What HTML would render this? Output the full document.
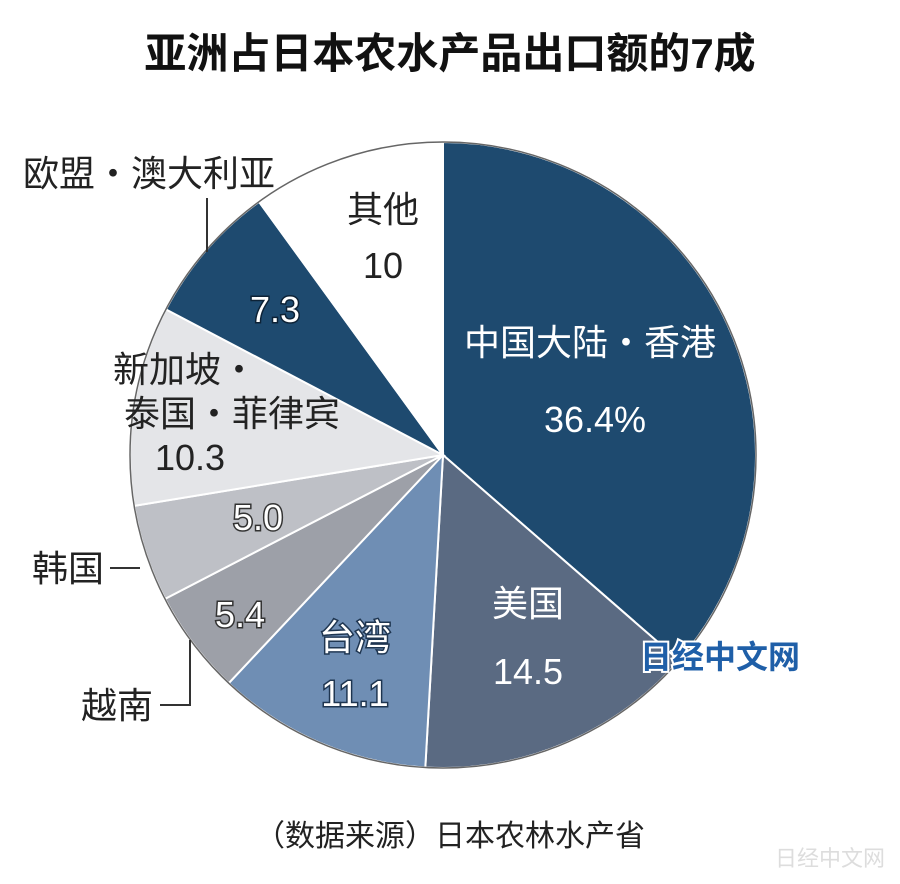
<!DOCTYPE html>
<html><head><meta charset="utf-8">
<style>
html,body{margin:0;padding:0;background:#fff;}
body{width:900px;height:884px;position:relative;overflow:hidden;font-family:"Liberation Sans","Noto Sans CJK SC",sans-serif;}
.t{position:absolute;white-space:nowrap;}
</style></head>
<body>
<div class="t" style="left:0;width:900px;top:28px;text-align:center;font-size:42px;font-weight:bold;color:#111;line-height:52px;">亚洲占日本农水产品出口额的7成</div>
<svg id="pie" width="900" height="884" style="position:absolute;left:0;top:0;" xmlns="http://www.w3.org/2000/svg"></svg>
<div class="t" style="left:0;width:900px;top:818px;text-align:center;font-size:30px;color:#222;line-height:38px;">（数据来源）日本农林水产省</div>
<script>
const categories=["中国大陆・香港","美国","台湾","越南","韩国","新加坡・泰国・菲律宾","欧盟・澳大利亚","其他"];
const values=[36.4,14.5,11.1,5.4,5.0,10.3,7.3,10];
const valueLabels=["36.4%","14.5","11.1","5.4","5.0","10.3","7.3","10"];
const colors=["#1e4a6f","#5a6a82","#6f8eb4","#9da0a8","#bec0c6","#e4e5e8","#1e4a6f","#ffffff"];
const NS="http://www.w3.org/2000/svg";
const svg=document.getElementById('pie');
const cx=443,cy=455,r=313;
const total=values.reduce((a,b)=>a+b,0);
function pt(frac,rad){const a=frac*2*Math.PI;return [cx+rad*Math.sin(a),cy-rad*Math.cos(a)];}
let acc=0;
values.forEach((v,i)=>{
  const s=acc/total,e=(acc+v)/total;acc+=v;
  const p0=pt(s,r),p1=pt(e,r);
  const large=(e-s)>0.5?1:0;
  const path=document.createElementNS(NS,'path');
  path.setAttribute('d',`M${cx},${cy}L${p0[0]},${p0[1]}A${r},${r} 0 ${large} 1 ${p1[0]},${p1[1]}Z`);
  path.setAttribute('fill',colors[i]);
  path.setAttribute('stroke','#fff');
  path.setAttribute('stroke-width','2');
  
  
  svg.appendChild(path);
});
const ring=document.createElementNS(NS,'circle');
ring.setAttribute('cx',cx);ring.setAttribute('cy',cy);ring.setAttribute('r',r);
ring.setAttribute('fill','none');ring.setAttribute('stroke','#666');ring.setAttribute('stroke-width','1.5');


svg.appendChild(ring);
const inLabels=[
 [590,355,categories[0],'#fff',null],[595,432,valueLabels[0],'#fff',null],
 [528,616,categories[1],'#fff',null],[528,684,valueLabels[1],'#fff',null],
 [355,650,categories[2],'#fff','#1e3550'],[355,706,valueLabels[2],'#fff','#1e3550'],
 [240,627,valueLabels[3],'#fff','#333'],
 [258,530,valueLabels[4],'#fff','#333'],
 [185,382,'新加坡・','#222',null],[232,426,'泰国・菲律宾','#222',null],[190,470,valueLabels[5],'#222',null],
 [275,322,valueLabels[6],'#fff','#0d2236'],
 [383,222,categories[7],'#222',null],[383,278,valueLabels[7],'#222',null]
];
inLabels.forEach((l,i)=>{
  const t=document.createElementNS(NS,'text');
  t.setAttribute('x',l[0]);t.setAttribute('y',l[1]);
  t.setAttribute('text-anchor','middle');
  t.setAttribute('font-size','36');
  t.setAttribute('font-family','"Liberation Sans","Noto Sans CJK SC",sans-serif');
  t.setAttribute('fill',l[3]);
  if(l[4]){t.setAttribute('stroke',l[4]);t.setAttribute('stroke-width','3');t.setAttribute('paint-order','stroke');}
  t.textContent=l[2];
  
  
  svg.appendChild(t);
});
const outLabels=[[149,186,categories[6]],[68,581,categories[4]],[117,718,categories[3]]];
outLabels.forEach(l=>{
  const t=document.createElementNS(NS,'text');
  t.setAttribute('x',l[0]);t.setAttribute('y',l[1]);t.setAttribute('text-anchor','middle');
  t.setAttribute('font-size','36');t.setAttribute('fill','#222');
  t.setAttribute('font-family','"Liberation Sans","Noto Sans CJK SC",sans-serif');
  t.textContent=l[2];
  
  
  svg.appendChild(t);
});
const leaders=["M207,198L207,252","M110,568L140,568","M160,705L190,705L190,640"];
leaders.forEach(d=>{
  const p=document.createElementNS(NS,'path');
  p.setAttribute('d',d);p.setAttribute('stroke','#333');p.setAttribute('stroke-width','2');p.setAttribute('fill','none');
  
  
  svg.appendChild(p);
});
const wm=document.createElementNS(NS,'text');
wm.setAttribute('x',720);wm.setAttribute('y',668);wm.setAttribute('text-anchor','middle');
wm.setAttribute('font-size','32');wm.setAttribute('font-weight','bold');wm.setAttribute('fill','#1f5fa8');
wm.setAttribute('stroke','#fff');wm.setAttribute('stroke-width','4');wm.setAttribute('paint-order','stroke');
wm.setAttribute('font-family','"Liberation Sans","Noto Sans CJK SC",sans-serif');
wm.textContent='日经中文网';


svg.appendChild(wm);
const wm2=document.createElementNS(NS,'text');
wm2.setAttribute('x',830);wm2.setAttribute('y',866);wm2.setAttribute('text-anchor','middle');
wm2.setAttribute('font-size','22');wm2.setAttribute('fill','#ddd');
wm2.setAttribute('font-family','"Liberation Sans","Noto Sans CJK SC",sans-serif');
wm2.textContent='日经中文网';


svg.appendChild(wm2);
</script>
</body></html>
